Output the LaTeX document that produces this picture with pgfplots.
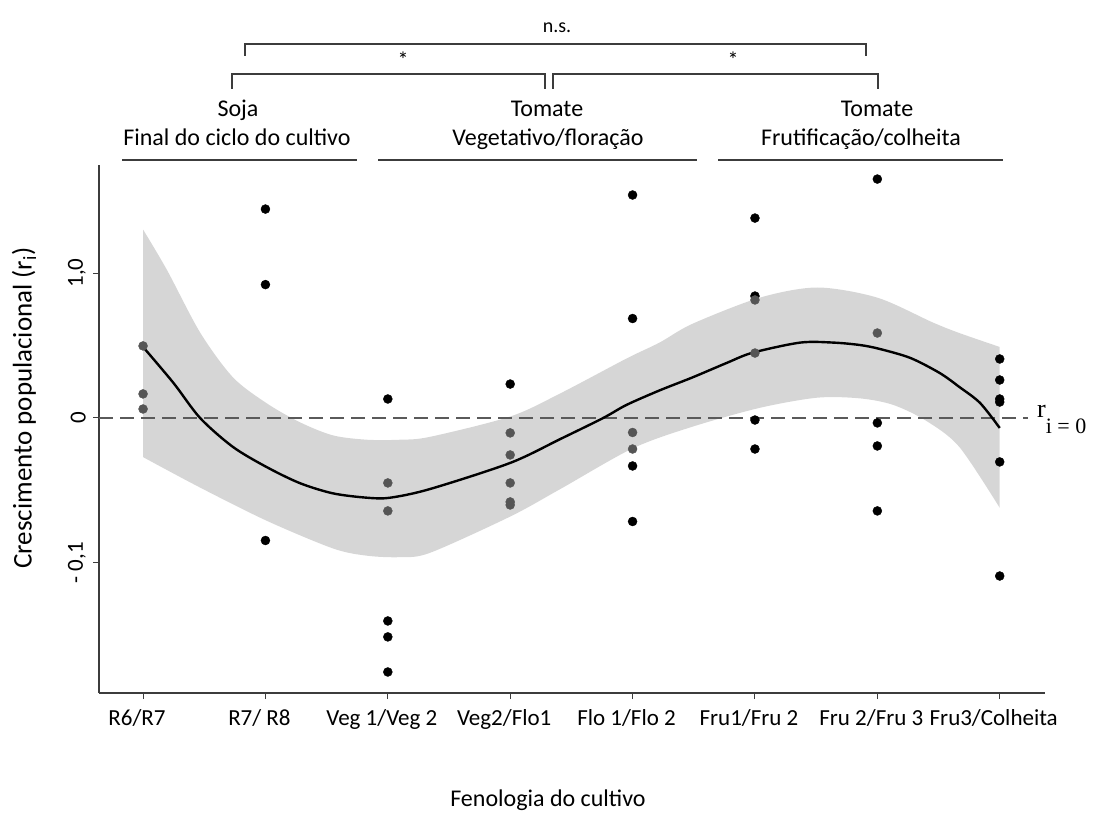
\documentclass[border=0pt]{standalone}
\usepackage{fontspec}
\setmainfont{Carlito}
\newfontfamily\timesfont{Liberation Serif}
\usepackage{pgfplots}
\pgfplotsset{compat=1.18}
\usepgfplotslibrary{fillbetween}
\definecolor{bandgray}{RGB}{172,172,172}
\definecolor{linegray}{RGB}{60,60,60}
\definecolor{dashgray}{RGB}{90,90,90}
\definecolor{dotgray}{RGB}{85,85,85}

% pontos observados fora da faixa (x = fase, y = r_i)
\pgfplotstableread{
x y
1 1.441
1 0.920
1 -0.845
2 0.131
2 -1.400
2 -1.510
2 -1.752
3 0.234
4 1.538
4 0.686
4 -0.331
4 -0.714
5 1.379
5 0.841
5 -0.014
5 -0.214
6 1.648
6 -0.034
6 -0.193
6 -0.641
7 0.407
7 0.262
7 0.131
7 0.110
7 -0.303
7 -1.090
}\pontosfora

% pontos sob a faixa de confiança
\pgfplotstableread{
x y
0 0.497
0 0.166
0 0.062
2 -0.448
2 -0.641
3 -0.103
3 -0.255
3 -0.448
3 -0.579
3 -0.600
4 -0.100
4 -0.214
5 0.814
5 0.448
6 0.586
}\pontosdentro

\begin{document}
\begin{tikzpicture}
\begin{axis}[
    at={(99pt,120pt)}, anchor=south west,
    scale only axis, width=946pt, height=528pt,
    xmin=-0.36, xmax=7.37, ymin=-1.897, ymax=1.745,
    axis lines=left,
    axis line style={-, line width=1.3pt, color=linegray},
    xtick={0,...,7},
    xticklabels={R6/R7, R7/ R8, Veg 1/Veg 2, Veg2/Flo1, Flo 1/Flo 2, Fru1/Fru 2, Fru 2/Fru 3, Fru3/Colheita},
    ytick={-1,0,1},
    yticklabels={{- 0,1},{0},{1,0}},
    tick style={line width=1pt, color=linegray},
    major tick length=6pt, tick align=outside,
    ticklabel style={font=\fontsize{23}{23}\selectfont},
    yticklabel style={rotate=90, anchor=south, inner sep=7pt},
    xticklabel style={anchor=north, inner sep=2pt, xshift=-6pt, yshift=-8pt},
    clip=false,
]

% intervalo de confiança
\addplot[name path=sup, draw=none, smooth] coordinates {
    (0,1.30) (0.196,1.02) (0.466,0.59) (0.735,0.28) (1.013,0.10)
    (1.283,-0.03) (1.552,-0.12) (1.83,-0.15) (2.1,-0.15) (2.345,-0.13)
    (3.0,0.01) (3.41,0.17) (3.95,0.41) (4.22,0.52) (4.49,0.65)
    (5.04,0.83) (5.51,0.90) (6.0,0.83) (6.45,0.66) (6.67,0.586) (7.0,0.49)
};
\addplot[name path=inf, draw=none, smooth] coordinates {
    (0,-0.27) (0.466,-0.48) (1.013,-0.71) (1.552,-0.90) (1.83,-0.95)
    (2.1,-0.96) (2.345,-0.93) (3.0,-0.68) (3.41,-0.49) (4.0,-0.21)
    (4.49,-0.06) (5.04,0.07) (5.51,0.14) (5.86,0.135) (6.13,0.09)
    (6.4,-0.02) (6.67,-0.20) (7.0,-0.62)
};
\addplot[bandgray, fill opacity=0.49, draw=none] fill between[of=sup and inf];

\addplot[only marks, mark=*, mark size=4.5pt, black] table[x=x, y=y] {\pontosfora};
\addplot[only marks, mark=*, mark size=4.5pt, dotgray] table[x=x, y=y] {\pontosdentro};

% r_i = 0
\addplot[dashgray, line width=2pt, dash pattern=on 14pt off 7pt] coordinates {(-0.36,0) (7.23,0)};

% curva ajustada
\addplot[black, line width=2.4pt, smooth] coordinates {
    (0,0.49) (0.25,0.24) (0.466,0.0) (0.735,-0.20) (1.013,-0.34)
    (1.283,-0.45) (1.552,-0.52) (1.83,-0.55) (2.018,-0.55) (2.345,-0.49)
    (3.0,-0.31) (3.41,-0.145) (3.76,0.0) (3.95,0.09) (4.22,0.19)
    (4.49,0.28) (4.77,0.38) (4.98,0.45) (5.37,0.52) (5.64,0.52)
    (5.86,0.503) (6.02,0.476) (6.27,0.414) (6.51,0.31) (6.67,0.214)
    (6.84,0.103) (7.0,-0.069)
};
\end{axis}

% rótulos dos eixos
\node[rotate=90, font=\fontsize{27}{27}\selectfont] at (24pt,405pt) {Crescimento populacional (r\textsubscript{i})};
\node[anchor=base, font=\fontsize{24}{24}\selectfont] at (548pt,7pt) {Fenologia do cultivo};
\node[anchor=base west, inner sep=0pt] at (1037pt,395pt)
    {\timesfont\fontsize{26}{26}\selectfont r\raisebox{-16pt}{\fontsize{22}{22}\selectfont i = 0}};

% grupos de fases
\draw[linegray, line width=1.3pt] (122pt,653pt) -- (357pt,653pt);
\draw[linegray, line width=1.3pt] (378pt,653pt) -- (697pt,653pt);
\draw[linegray, line width=1.3pt] (718pt,653pt) -- (1003pt,653pt);
\begin{scope}[every node/.style={anchor=base, font=\fontsize{24}{24}\selectfont}]
\node at (238pt,696pt) {Soja};
\node at (237pt,667pt) {Final do ciclo do cultivo};
\node at (547pt,696pt) {Tomate};
\node at (548pt,667pt) {Vegetativo/floração};
\node at (877pt,696pt) {Tomate};
\node at (861pt,667pt) {Frutificação/colheita};
\end{scope}

% comparações
\draw[linegray, line width=1.3pt] (245pt,757pt) -- (245pt,769pt) -- (866pt,769pt) -- (866pt,757pt);
\draw[linegray, line width=1.3pt] (232pt,724pt) -- (232pt,739pt) -- (545pt,739pt) -- (545pt,724pt);
\draw[linegray, line width=1.3pt] (553pt,724pt) -- (553pt,739pt) -- (878pt,739pt) -- (878pt,724pt);
\node[font=\fontsize{22}{22}\selectfont] at (403pt,753pt) {*};
\node[font=\fontsize{22}{22}\selectfont] at (733pt,753pt) {*};
\node[anchor=base, font=\fontsize{20}{20}\selectfont] at (557pt,780pt) {n.s.};

\path (0pt,0pt) rectangle (1094pt,813pt);
\end{tikzpicture}
\end{document}
